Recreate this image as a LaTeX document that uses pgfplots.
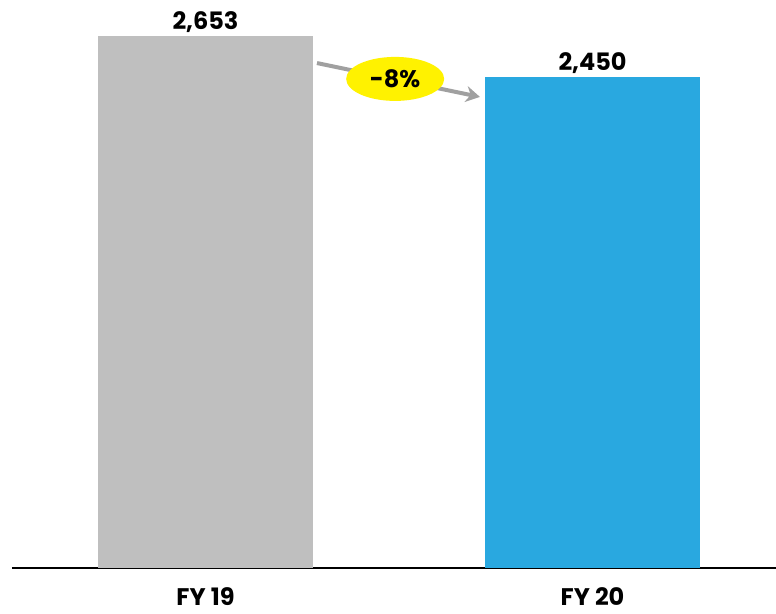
\documentclass[border=0pt]{standalone}
\usepackage{pgfplots}
\pgfplotsset{compat=1.18}
\usetikzlibrary{arrows.meta,shapes.geometric}
\usepackage{fontspec}
\setmainfont{Poppins}
\definecolor{bargray}{HTML}{BFBFBF}
\definecolor{barblue}{HTML}{29A8E0}
\definecolor{arrgray}{HTML}{A0A0A0}
\begin{document}
\begin{tikzpicture}
\useasboundingbox (-12pt,-45pt) rectangle (764pt,568pt);
\begin{axis}[
  scale only axis,
  width=764pt, height=568pt,
  xmin=-0.5, xmax=1.474,
  ymin=0, ymax=2832.5,
  axis y line=none,
  axis x line=bottom,
  axis line style={-, line width=1.5pt, black},
  xtick={0,1}, xticklabels={FY 19, FY 20},
  major tick length=0pt,
  xticklabel style={font=\fontsize{24}{26}\selectfont\bfseries, yshift=-16pt},
  ytick=\empty,
  clip=false,
  /pgf/number format/assume math mode=true,
]
\addplot[ybar, bar width=215pt, fill=bargray, draw=none,
  nodes near coords, nodes near coords style={font=\fontsize{24}{26}\selectfont\bfseries, anchor=south, yshift=0pt},
  point meta=explicit symbolic]
  coordinates {(0,2653) [2{,}653]};
\addplot[ybar, bar width=215pt, fill=barblue, draw=none,
  nodes near coords, nodes near coords style={font=\fontsize{24}{26}\selectfont\bfseries, anchor=south, yshift=0pt},
  point meta=explicit symbolic]
  coordinates {(1,2450) [2{,}450]};
\draw[arrgray, line width=4pt, -{Stealth[length=14pt,width=16pt]}] (axis cs:0.288,2518) -- (axis cs:0.709,2349);
\node[ellipse, fill=yellow, minimum width=98pt, minimum height=44pt, inner sep=0pt, font=\fontsize{24}{26}\selectfont\bfseries] at (axis cs:0.49,2439) {-8\%};
\end{axis}
\end{tikzpicture}
\end{document}
